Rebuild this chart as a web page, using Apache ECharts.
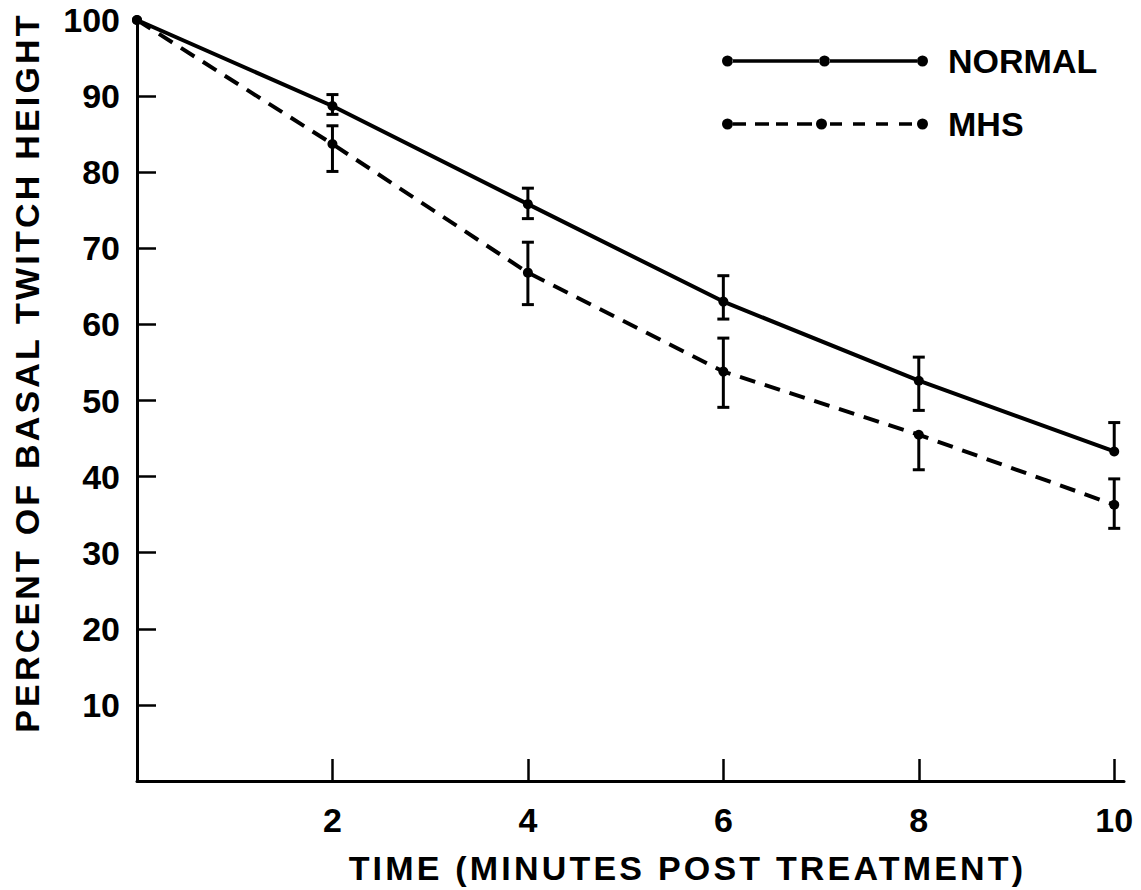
<!DOCTYPE html>
<html>
<head>
<meta charset="utf-8">
<script src="https://cdn.jsdelivr.net/npm/echarts@6/dist/echarts.min.js"></script>
<style>
  html, body { margin: 0; padding: 0; background: #ffffff; }
  #chart { width: 1141px; height: 890px; }
</style>
</head>
<body>
<div id="chart"></div>
<script>
// Twitch height after treatment, mean with error-bar ends (null = no bar on that side)
const times = [0, 2, 4, 6, 8, 10];

const normalMean = [100, 88.7, 75.8, 63.0, 52.6, 43.3];
const normalHigh = [null, 90.2, 77.9, 66.4, 55.7, 47.1];
const normalLow  = [null, 87.6, 73.9, 60.7, 48.7, null];

const mhsMean = [100, 83.7, 66.8, 53.8, 45.5, 36.3];
const mhsHigh = [null, 86.1, 70.8, 58.2, null, 39.7];
const mhsLow  = [null, 80.1, 62.6, 49.1, 40.9, 33.2];

const seriesNames = ['NORMAL', 'MHS'];
const xTickValues = [2, 4, 6, 8, 10];
const yTickValues = [10, 20, 30, 40, 50, 60, 70, 80, 90];
const yLabelValues = [10, 20, 30, 40, 50, 60, 70, 80, 90, 100];
const xTitle = 'TIME (MINUTES POST TREATMENT)';
const yTitle = 'PERCENT OF BASAL TWITCH HEIGHT';

const FONT = "'Liberation Sans', Arial, Helvetica, sans-serif";
const INK = '#000000';

// error-bar items: [time, mean, low end, high end]
function errorItems(mean, low, high) {
  const items = [];
  times.forEach((t, i) => {
    if (low[i] == null && high[i] == null) return;
    items.push([t, mean[i], low[i] == null ? mean[i] : low[i], high[i] == null ? mean[i] : high[i]]);
  });
  return items;
}

function renderErrorBar(params, api) {
  const x = api.value(0);
  const mean = api.value(1);
  const lo = api.value(2);
  const hi = api.value(3);
  const pLo = api.coord([x, lo]);
  const pHi = api.coord([x, hi]);
  const half = 6;
  const style = { stroke: INK, lineWidth: 3, fill: null };
  const children = [{
    type: 'line',
    shape: { x1: pLo[0], y1: pLo[1], x2: pHi[0], y2: pHi[1] },
    style: style
  }];
  if (lo < mean) {
    children.push({ type: 'line', shape: { x1: pLo[0] - half, y1: pLo[1], x2: pLo[0] + half, y2: pLo[1] }, style: style });
  }
  if (hi > mean) {
    children.push({ type: 'line', shape: { x1: pHi[0] - half, y1: pHi[1], x2: pHi[0] + half, y2: pHi[1] }, style: style });
  }
  return { type: 'group', children: children };
}

// legend samples: line with dots at both ends and the middle (path box 206 x 11)
const R = 5.5;
function dot(cx) { return 'M' + (cx - R) + ',' + R + ' a' + R + ',' + R + ' 0 1,0 ' + (2 * R) + ',0 a' + R + ',' + R + ' 0 1,0 ' + (-2 * R) + ',0 Z '; }
function seg(x0, x1) { return 'M' + x0 + ',3.7 L' + x1 + ',3.7 L' + x1 + ',7.3 L' + x0 + ',7.3 Z '; }
const normalIcon = 'path://' + dot(5.5) + seg(10.5, 97.5) + dot(102.5) + seg(107.5, 195) + dot(200.5);
const mhsIcon = 'path://' + dot(5.5) + seg(11, 24) + seg(33, 47) + seg(54, 66) + seg(75, 90) + dot(99.5)
  + seg(108, 120) + seg(131, 143) + seg(154, 166) + seg(177, 190) + dot(200.5);

const chart = echarts.init(document.getElementById('chart'), null, { renderer: 'svg' });

const option = {
  backgroundColor: '#ffffff',
  animation: false,
  textStyle: { fontFamily: FONT, color: INK },
  grid: { left: 137, right: 17, top: 20, bottom: 109, containLabel: false },
  legend: {
    orient: 'vertical',
    left: 722,
    top: 44,
    padding: 0,
    itemWidth: 206,
    itemHeight: 11,
    itemGap: 29,
    selectedMode: false,
    itemStyle: { borderWidth: 0 },
    textStyle: { fontFamily: FONT, fontSize: 34, fontWeight: 'bold', color: INK, padding: [0, 0, 0, 15] },
    data: [
      { name: seriesNames[0], icon: normalIcon },
      { name: seriesNames[1], icon: mhsIcon }
    ]
  },
  xAxis: {
    type: 'value',
    min: 0,
    max: 10.1,
    name: xTitle,
    nameLocation: 'middle',
    nameGap: 70,
    nameTextStyle: { fontFamily: FONT, fontSize: 34, fontWeight: 'bold', color: INK, padding: [0, 0, 0, 114] },
    axisLine: { show: true, onZero: false, lineStyle: { color: INK, width: 3 } },
    axisTick: { show: true, inside: true, length: 22, customValues: xTickValues, lineStyle: { color: INK, width: 2.5 } },
    axisLabel: { show: true, margin: 22, customValues: xTickValues, fontFamily: FONT, fontSize: 34, fontWeight: 'bold', color: INK },
    splitLine: { show: false }
  },
  yAxis: {
    type: 'value',
    min: 0,
    max: 100,
    name: yTitle,
    nameLocation: 'middle',
    nameGap: 93,
    nameTextStyle: { fontFamily: FONT, fontSize: 34, fontWeight: 'bold', color: INK, padding: [0, 0, 0, 56] },
    axisLine: { show: true, onZero: false, lineStyle: { color: INK, width: 3 } },
    axisTick: { show: true, inside: true, length: 19, customValues: yTickValues, lineStyle: { color: INK, width: 2.5 } },
    axisLabel: { show: true, margin: 17, customValues: yLabelValues, fontFamily: FONT, fontSize: 34, fontWeight: 'bold', color: INK },
    splitLine: { show: false }
  },
  series: [
    {
      name: seriesNames[0],
      type: 'line',
      data: times.map((t, i) => [t, normalMean[i]]),
      symbol: 'circle',
      symbolSize: 10,
      clip: false,
      itemStyle: { color: INK, borderWidth: 0 },
      lineStyle: { color: INK, width: 4, type: 'solid' },
      z: 3
    },
    {
      name: seriesNames[1],
      type: 'line',
      data: times.map((t, i) => [t, mhsMean[i]]),
      symbol: 'circle',
      symbolSize: 10,
      clip: false,
      itemStyle: { color: INK, borderWidth: 0 },
      lineStyle: { color: INK, width: 4, type: [16, 10] },
      z: 3
    },
    {
      name: seriesNames[0] + ' error',
      type: 'custom',
      renderItem: renderErrorBar,
      data: errorItems(normalMean, normalLow, normalHigh),
      encode: { x: 0, y: [2, 3] },
      clip: false,
      z: 4
    },
    {
      name: seriesNames[1] + ' error',
      type: 'custom',
      renderItem: renderErrorBar,
      data: errorItems(mhsMean, mhsLow, mhsHigh),
      encode: { x: 0, y: [2, 3] },
      clip: false,
      z: 4
    }
  ]
};

chart.setOption(option);

// widen the letter spacing of the two axis titles
function spaceTitles() {
  const nodes = chart.getDom().querySelectorAll('text');
  nodes.forEach(n => {
    const t = n.textContent;
    if (t === xTitle || t === yTitle) {
      n.style.letterSpacing = '3.2px';
    }
  });
}
spaceTitles();
chart.on('finished', spaceTitles);
</script>
</body>
</html>
